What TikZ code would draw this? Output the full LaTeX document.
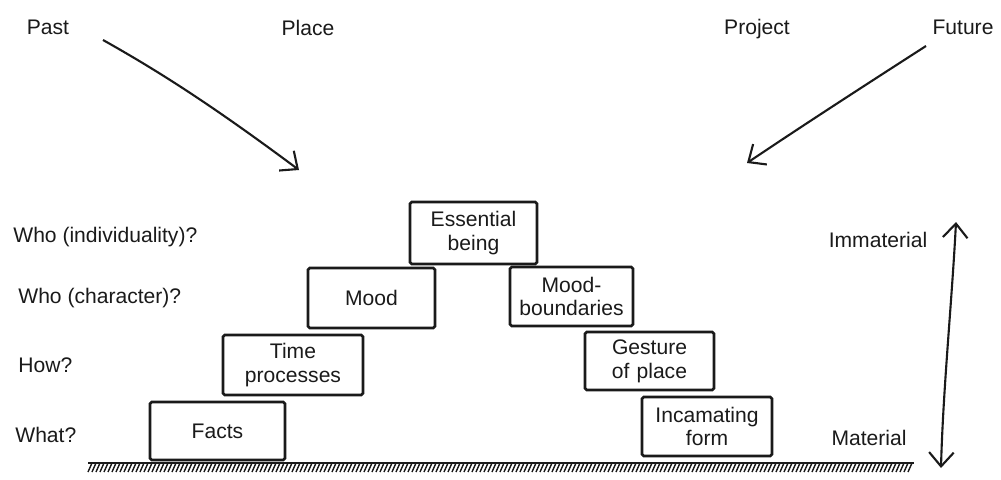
\documentclass[tikz,border=0pt]{standalone}
\usepackage{fontspec}
\setmainfont{Liberation Sans}
\usetikzlibrary{arrows.meta}
\definecolor{ink}{HTML}{1A1A1A}
\tikzset{
  brick/.style={draw=ink, line width=1.5pt, rounded corners=1pt, align=center, inner sep=0pt,
    font=\fontsize{12}{13.5}\selectfont, text=ink},
  lbl/.style={font=\fontsize{12}{13.5}\selectfont, text=ink, inner sep=0pt},
  sketcharrow/.style={draw=ink, line width=1.2pt, -{Straight Barb[length=8pt,width=14pt,line width=1.2pt]}},
  bothway/.style={draw=ink, line width=1.2pt, {Straight Barb[length=8pt,width=14pt,line width=1.2pt]}-{Straight Barb[length=8pt,width=14pt,line width=1.2pt]}},
  hatch/.style={draw=ink, line width=0.8pt}
}
\begin{document}
\begin{tikzpicture}[x=0.02cm,y=-0.02cm]
\useasboundingbox (0,0) rectangle (1001,480);
% top labels
\node[lbl] (past) at (48,27) {Past};
\node[lbl] (place) at (308,28) {Place};
\node[lbl] (project) at (757,29) {Project};
\node[lbl] (future) at (963,27) {Future};
% left labels
\node[lbl, anchor=west] (q1) at (13,237) {Who (individuality)?};
\node[lbl, anchor=west] (q2) at (18,298) {Who (character)?};
\node[lbl, anchor=west] (q3) at (18,365) {How?};
\node[lbl, anchor=west] (q4) at (15,435) {What?};
% right labels
\node[lbl] (immat) at (878,240) {Immaterial};
\node[lbl] (mat) at (869,438) {Material};
% bricks
\node[brick, text width=2.5cm, minimum width=2.7cm, minimum height=1.16cm] (facts) at (217.5,431) {Facts};
\node[brick, text width=2.6cm, minimum width=2.8cm, minimum height=1.2cm] (time) at (293,365) {Time\\processes};
\node[brick, text width=2.4cm, minimum width=2.54cm, minimum height=1.2cm] (mood) at (371.5,298) {Mood};
\node[brick, text width=2.4cm, minimum width=2.54cm, minimum height=1.24cm] (ess) at (473.5,233) {Essential\\being};
\node[brick, text width=2.4cm, minimum width=2.46cm, minimum height=1.18cm] (moodb) at (571.5,296.5) {Mood-\\boundaries};
\node[brick, text width=2.5cm, minimum width=2.58cm, minimum height=1.16cm] (gest) at (649.5,361) {Gesture\\of place};
\node[brick, text width=2.5cm, minimum width=2.6cm, minimum height=1.18cm] (inc) at (707,426.5) {Incamating\\form};
% ground
\coordinate (gl) at (88,463);
\coordinate (gr) at (914,463);
\draw[ink, line width=1.4pt] (gl) -- (gr);
\foreach \x in {92,96,...,914} {
  \draw[hatch] (\x,463) -- (\x-4,472);
}
% arrows
\coordinate (pastS) at (103,40);
\coordinate (pastE) at (299,170);
\draw[sketcharrow] (pastS) .. controls (160,72) and (213,106) .. (pastE);
\coordinate (futS) at (926,46);
\coordinate (futE) at (747,163);
\draw[sketcharrow] (futS) .. controls (870,82) and (805,124) .. (futE);
\coordinate (vBot) at (941,468);
\coordinate (vTop) at (956,222);
\draw[bothway] (vBot) .. controls (943,390) and (952,300) .. (vTop);
\end{tikzpicture}
\end{document}
